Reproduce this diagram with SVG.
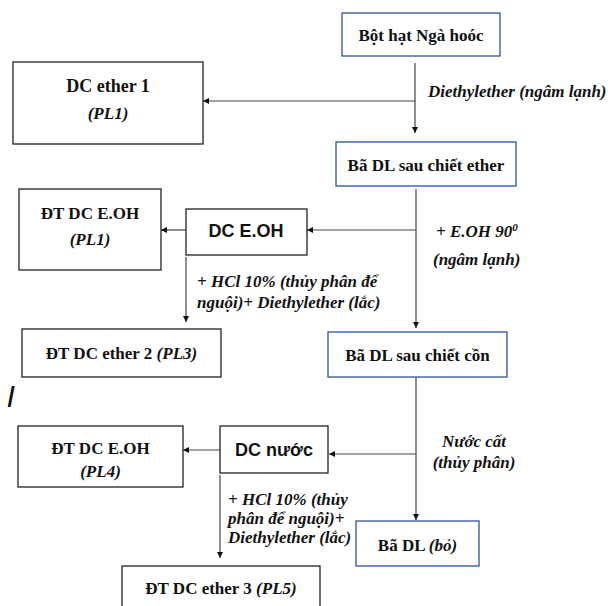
<svg xmlns="http://www.w3.org/2000/svg" width="608" height="606" viewBox="0 0 608 606">
<style>
.bb{fill:#fff;stroke:#2f5597;stroke-width:1.3}
.kb{fill:#fff;stroke:#222;stroke-width:1.3}
.t{font-family:'Liberation Serif','Times New Roman',serif;font-size:17px;font-weight:bold;fill:#111}
.c{text-anchor:middle}
.i{font-style:italic}
.a{font-family:'Liberation Sans',Arial,sans-serif;font-size:18px;font-weight:bold;fill:#111;text-anchor:middle}
.ln{stroke:#444;stroke-width:1.2;fill:none;marker-end:url(#ah)}
</style>
<defs>
<marker id="ah" viewBox="0 0 10 10" refX="10" refY="5" markerWidth="6" markerHeight="6" markerUnits="userSpaceOnUse" orient="auto">
<path d="M0,0 L10,5 L0,10 z" fill="#111"/>
</marker>
</defs>
<rect width="608" height="606" fill="#fff"/>
<g id="connectors">
<line class="ln" x1="415" y1="63" x2="415" y2="133"/>
<line class="ln" x1="415" y1="101" x2="203" y2="101"/>
<line class="ln" x1="416" y1="189" x2="416" y2="328"/>
<line class="ln" x1="416" y1="230" x2="307" y2="230"/>
<line class="ln" x1="186" y1="230" x2="161" y2="230"/>
<line class="ln" x1="186" y1="257" x2="186" y2="322"/>
<line class="ln" x1="416" y1="377" x2="416" y2="520"/>
<line class="ln" x1="416" y1="454" x2="329" y2="454"/>
<line class="ln" x1="220" y1="450" x2="183" y2="450"/>
<line class="ln" x1="220" y1="475" x2="220" y2="558"/>
</g>
<g id="labels" font-family="Liberation Serif, serif">
<text class="t i" x="428" y="97">Diethylether (ngâm lạnh)</text>
<text class="t i" x="436" y="237">+ E.OH 90<tspan font-size="11" dy="-6">0</tspan></text>
<text class="t i" x="433" y="265">(ngâm lạnh)</text>
<text class="t i" x="197" y="287">+ HCl 10% (thủy phân để</text>
<text class="t i" x="197" y="308">nguội)+ Diethylether (lắc)</text>
<text class="t i" x="228" y="505">+ HCl 10% (thủy</text>
<text class="t i" x="228" y="524">phân để nguội)+</text>
<text class="t i" x="228" y="543">Diethylether (lắc)</text>
<text class="t i c" x="474" y="447">Nước cất</text>
<text class="t i c" x="474" y="468">(thủy phân)</text>
<text transform="translate(11,396) skewX(-11)" x="-2.9" y="6" font-family="Liberation Sans, sans-serif" font-size="22" font-weight="bold" fill="#111">|</text>
</g>
<g id="n1">
<rect class="bb" x="342" y="13" width="158" height="43"/>
<text class="t c" x="421" y="41">Bột hạt Ngà hoóc</text>
</g>
<g id="n2">
<rect class="kb" x="13" y="62" width="190" height="82"/>
<text class="t c" x="108" y="92" font-size="18" style="font-size:18px">DC ether 1</text>
<text class="t c i" x="108" y="119">(PL1)</text>
</g>
<g id="n3">
<rect class="bb" x="336" y="142" width="180" height="44"/>
<text class="t c" x="426" y="171">Bã DL sau chiết ether</text>
</g>
<g id="n4">
<rect class="kb" x="19" y="189" width="142" height="81"/>
<text class="t c" x="90" y="219">ĐT DC E.OH</text>
<text class="t c i" x="90" y="245">(PL1)</text>
</g>
<g id="n5">
<rect class="kb" x="186" y="209" width="121" height="46"/>
<text class="a" x="246" y="236.5">DC E.OH</text>
</g>
<g id="n6">
<rect class="kb" x="22" y="329" width="199" height="48"/>
<text class="t c" x="121.5" y="359">ĐT DC ether 2 <tspan class="i">(PL3)</tspan></text>
</g>
<g id="n7">
<rect class="bb" x="328" y="332" width="179" height="45"/>
<text class="t c" x="417.5" y="361">Bã DL sau chiết cồn</text>
</g>
<g id="n8">
<rect class="kb" x="18" y="426" width="165" height="61"/>
<text class="t c" x="100.5" y="454">ĐT DC E.OH</text>
<text class="t c i" x="100.5" y="477">(PL4)</text>
</g>
<g id="n9">
<rect class="kb" x="220" y="426" width="108" height="47"/>
<text class="a" x="274" y="455.5">DC nước</text>
</g>
<g id="n10">
<rect class="bb" x="356" y="521" width="123" height="45"/>
<text class="t c" x="417.5" y="551">Bã DL <tspan class="i">(bỏ)</tspan></text>
</g>
<g id="n11">
<rect class="kb" x="122" y="566" width="198" height="60"/>
<text class="t c" x="221" y="594">ĐT DC ether 3 <tspan class="i">(PL5)</tspan></text>
</g>
</svg>
